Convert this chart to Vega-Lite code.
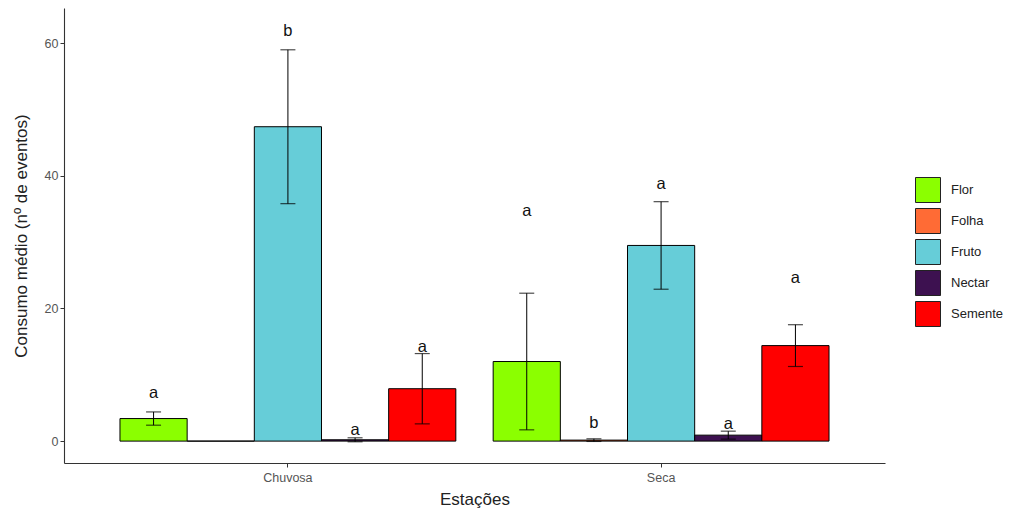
{
  "$schema": "https://vega.github.io/schema/vega-lite/v6.json",
  "autosize": {"type": "none"},
  "padding": {"left": 64, "top": 8, "right": 128, "bottom": 51},
  "width": 821,
  "height": 455,
  "background": "white",
  "config": {
    "view": {"stroke": null},
    "font": "Liberation Sans",
    "axis": {"grid": false, "domainColor": "#333333", "domainWidth": 1.1, "tickColor": "#333333", "tickSize": 4, "labelColor": "#555555", "labelFontSize": 12.5, "titleColor": "#222222", "titleFontSize": 17, "titleFontWeight": "normal"}
  },
  "data": {
    "values": [
      {"estacao": "Chuvosa", "item": "Flor", "media": 3.4, "ep": 1.0, "letra": "a", "pos_letra": 7.2},
      {"estacao": "Chuvosa", "item": "Folha", "media": 0, "ep": null, "letra": null, "pos_letra": null},
      {"estacao": "Chuvosa", "item": "Fruto", "media": 47.4, "ep": 11.6, "letra": "b", "pos_letra": 61.8},
      {"estacao": "Chuvosa", "item": "Nectar", "media": 0.2, "ep": 0.3, "letra": "a", "pos_letra": 1.7},
      {"estacao": "Chuvosa", "item": "Semente", "media": 7.9, "ep": 5.3, "letra": "a", "pos_letra": 14.2},
      {"estacao": "Seca", "item": "Flor", "media": 12.0, "ep": 10.3, "letra": "a", "pos_letra": 34.7},
      {"estacao": "Seca", "item": "Folha", "media": 0.15, "ep": 0.2, "letra": "b", "pos_letra": 2.8},
      {"estacao": "Seca", "item": "Fruto", "media": 29.5, "ep": 6.6, "letra": "a", "pos_letra": 38.7},
      {"estacao": "Seca", "item": "Nectar", "media": 0.9, "ep": 0.6, "letra": "a", "pos_letra": 2.6},
      {"estacao": "Seca", "item": "Semente", "media": 14.4, "ep": 3.15, "letra": "a", "pos_letra": 24.6}
    ]
  },
  "transform": [
    {"calculate": "datum.ep == null ? null : datum.media - datum.ep", "as": "inf"},
    {"calculate": "datum.ep == null ? null : datum.media + datum.ep", "as": "sup"}
  ],
  "encoding": {
    "x": {
      "field": "estacao", "type": "nominal",
      "scale": {"paddingInner": 0.1, "paddingOuter": 0.15},
      "axis": {"title": "Estações", "labelAngle": 0, "labelPadding": 4, "titlePadding": 8}
    },
    "xOffset": {"field": "item", "type": "nominal", "scale": {"paddingInner": 0, "paddingOuter": 0}}
  },
  "layer": [
    {
      "mark": {"type": "bar", "stroke": "#000000", "strokeWidth": 1},
      "encoding": {
        "y": {
          "field": "media", "type": "quantitative",
          "scale": {"domain": [-3.3, 65.3], "nice": false, "zero": false},
          "axis": {"title": "Consumo médio (nº de eventos)", "values": [0, 20, 40, 60], "titlePadding": 14}
        },
        "color": {
          "field": "item", "type": "nominal",
          "scale": {"domain": ["Flor", "Folha", "Fruto", "Nectar", "Semente"], "range": ["#8BFF00", "#FF6B35", "#66CDD8", "#3D1150", "#FF0000"]},
          "legend": {
            "title": null, "orient": "none", "legendX": 851, "legendY": 169,
            "symbolType": "square", "symbolSize": 625, "symbolStrokeColor": "#222222", "symbolStrokeWidth": 1,
            "labelFontSize": 13, "labelColor": "#222222", "rowPadding": 1, "labelOffset": 10
          }
        }
      }
    },
    {
      "mark": {"type": "rule", "color": "#000000", "strokeWidth": 1},
      "encoding": {
        "y": {"field": "inf", "type": "quantitative"},
        "y2": {"field": "sup"}
      }
    },
    {
      "mark": {"type": "tick", "color": "#000000", "thickness": 1.2, "size": 15},
      "encoding": {"y": {"field": "inf", "type": "quantitative"}}
    },
    {
      "mark": {"type": "tick", "color": "#000000", "thickness": 1.2, "size": 15},
      "encoding": {"y": {"field": "sup", "type": "quantitative"}}
    },
    {
      "mark": {"type": "text", "fontSize": 16.5, "color": "#111111", "baseline": "middle"},
      "encoding": {
        "y": {"field": "pos_letra", "type": "quantitative"},
        "text": {"field": "letra"}
      }
    }
  ]
}
